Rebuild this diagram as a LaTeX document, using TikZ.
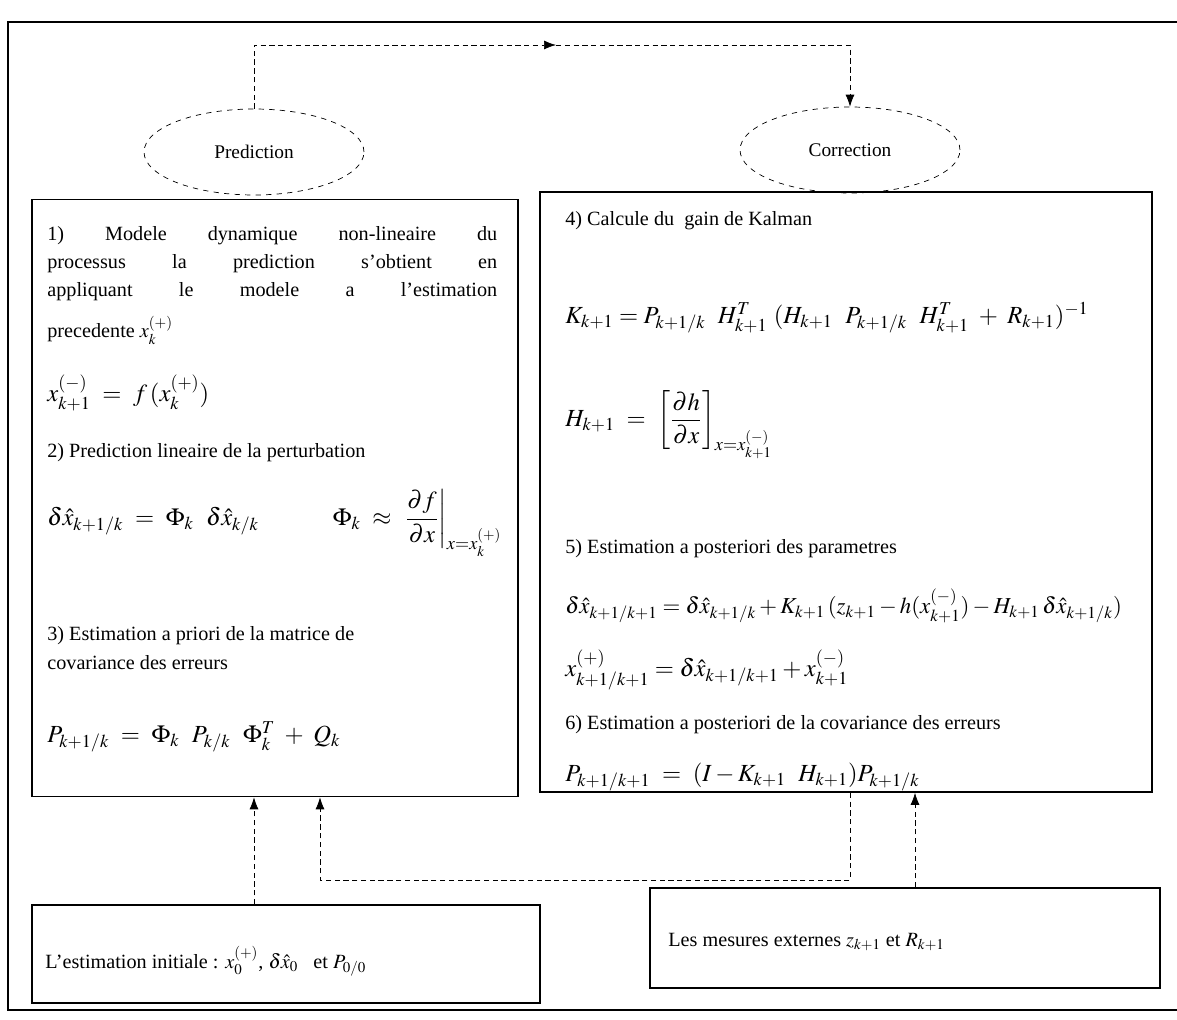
\documentclass[tikz,border=0pt]{standalone}
\usepackage{amsmath}
\usepackage{mathptmx}
\usepackage[no-math]{fontspec}
\setmainfont{Liberation Serif}
\usetikzlibrary{arrows.meta,shapes.geometric}
\tikzset{
  stage/.style={draw, line width=1pt, inner sep=0pt},
  bubble/.style={draw, dashed, thin, ellipse, minimum width=4.4cm, minimum height=1.72cm,
                 inner sep=0pt, font=\fontsize{11}{13}\selectfont},
  txt/.style={anchor=base west, inner sep=0pt, font=\fontsize{11.5}{14}\selectfont},
  eq/.style={anchor=west, inner sep=0pt, font=\fontsize{14}{17}\selectfont},
  link/.style={densely dashed, thin, -{Latex[length=2.4mm,width=1.8mm]}},
}

\begin{document}
\begin{tikzpicture}[x=0.02cm,y=-0.02cm]
  \useasboundingbox (0,0) rectangle (1177,1020);
  % outer frame, open on the right
  \draw[line width=1pt] (1177,22) -- (8,22) -- (8,1010) -- (1177,1010);

  % the two stages
  \node[stage,minimum width=9.72cm,minimum height=11.94cm] (pbox) at (275,498) {};
  \node[stage,minimum width=12.24cm,minimum height=12cm] (cbox) at (846,492) {};
  \node[bubble] (pred) at (254,152) {Prediction};
  \node[bubble] (corr) at (850,150) {Correction};

  % inputs
  \node[stage,minimum width=10.16cm,minimum height=1.96cm] (init) at (286,954) {};
  \node[stage,minimum width=10.2cm,minimum height=2cm] (meas) at (905,938) {};

  % prediction text
  \node[txt] (p1) at (47,241) {\makebox[9cm][s]{1) Modele dynamique non-lineaire du}};
  \node[txt] (p2) at (47,269) {\makebox[9cm][s]{processus la prediction s'obtient en}};
  \node[txt] (p3) at (47,297) {\makebox[9cm][s]{appliquant le modele a l'estimation}};
  \node[txt] (p4) at (47,338) {precedente $x_k^{(+)}$};
  \node[eq] (pe1) at (47,393) {$x_{k+1}^{(-)}\ =\ f\,(x_k^{(+)})$};
  \node[txt] (p5) at (47,458) {2) Prediction lineaire de la perturbation};
  \node[eq] (pe2) at (47,523) {$\delta\hat{x}_{k+1/k}\ =\ \Phi_k\ \ \delta\hat{x}_{k/k} \qquad\quad
      \Phi_k\ \approx\ \left.\dfrac{\partial f}{\partial x}\right|_{x=x_k^{(+)}}$};
  \node[txt] (p6) at (47,640) {3) Estimation a priori de la matrice de};
  \node[txt] (p7) at (47,669) {covariance des erreurs};
  \node[eq] (pe3) at (47,737) {$P_{k+1/k}\ =\ \Phi_k\ \ P_{k/k}\ \ \Phi_k^T\ +\ Q_k$};

  % correction text
  \node[txt] (c1) at (565,226) {4) Calcule du\ \ gain de Kalman};
  \node[eq] (ce1) at (565,318) {$K_{k+1} = P_{k+1/k}\ \ H_{k+1}^T\ (H_{k+1}\ \ P_{k+1/k}\ \ H_{k+1}^T\ +\ R_{k+1})^{-1}$};
  \node[eq] (ce2) at (565,425) {$H_{k+1}\ =\ \left[\dfrac{\partial h}{\partial x}\right]_{x=x_{k+1}^{(-)}}$};
  \node[txt] (c2) at (565,553) {5) Estimation a posteriori des parametres};
  \node[eq,font=\fontsize{13}{15}\selectfont] (ce3) at (565,606) {$\delta\hat{x}_{k+1/k+1} = \delta\hat{x}_{k+1/k} + K_{k+1}\,(z_{k+1} - h(x_{k+1}^{(-)}) - H_{k+1}\,\delta\hat{x}_{k+1/k})$};
  \node[eq] (ce4) at (565,670) {$x_{k+1/k+1}^{(+)} = \delta\hat{x}_{k+1/k+1} + x_{k+1}^{(-)}$};
  \node[txt] (c3) at (565,729) {6) Estimation a posteriori de la covariance des erreurs};
  \node[eq] (ce5) at (565,777) {$P_{k+1/k+1}\ =\ (I - K_{k+1}\ \ H_{k+1})P_{k+1/k}$};

  % input text
  \node[txt] (i1) at (45,968) {L'estimation initiale : $x_0^{(+)}$, $\delta\hat{x}_0$\ \ \ et $P_{0/0}$};
  \node[txt] (m1) at (668,946) {Les mesures externes $z_{k+1}$ et $R_{k+1}$};

  % connectors
  \coordinate (top) at (556,45);
  \coordinate (back) at (320,880);
  \coordinate (mx) at (915,850);
  \draw[link] (pred.north) |- (top);
  \draw[link] (top) -| (corr.north);
  \draw[link] (init.north -| pred.south) -- (pbox.south -| pred.south);
  \draw[link] (cbox.south -| corr.south) |- (back) -- (pbox.south -| back);
  \draw[link] (meas.north -| mx) -- (cbox.south -| mx);
\end{tikzpicture}
\end{document}
